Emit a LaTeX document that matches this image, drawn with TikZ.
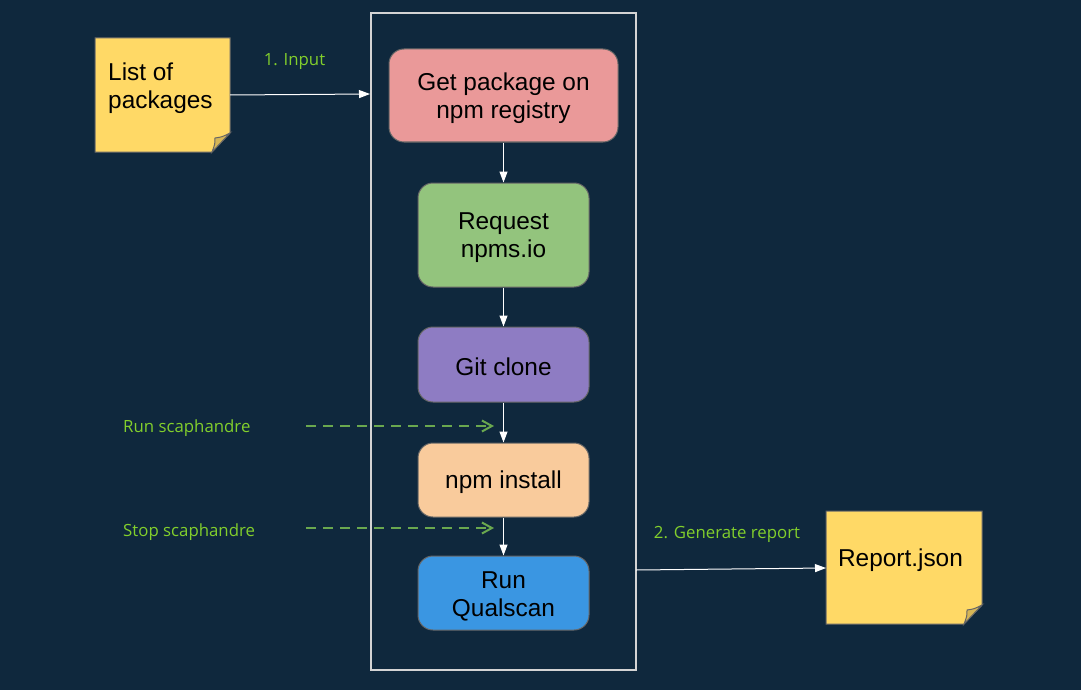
\documentclass[tikz,border=0pt]{standalone}
\usepackage{fontspec}
\setmainfont{Liberation Sans}
\newfontfamily\labelfont{Open Sans}
\usetikzlibrary{arrows.meta}
\definecolor{bg}{HTML}{0F283D}
\definecolor{frame}{HTML}{D4D4D4}
\definecolor{boxline}{HTML}{666666}
\definecolor{cget}{HTML}{EA9999}
\definecolor{creq}{HTML}{93C47D}
\definecolor{cgit}{HTML}{8E7CC3}
\definecolor{cnpm}{HTML}{F9CB9C}
\definecolor{crun}{HTML}{3A96E2}
\definecolor{notefill}{HTML}{FFD966}
\definecolor{notefold}{HTML}{D6B656}
\definecolor{lbl}{HTML}{82CF2C}
\definecolor{dashc}{HTML}{6AA84F}
\tikzset{
  stepbox/.style={draw=boxline, line width=1pt, rounded corners=15pt, inner sep=0pt},
  boxtext/.style={align=center, inner sep=0pt, font=\fontsize{24.4}{28}\selectfont, text=black},
  flow/.style={draw=white, line width=1pt, -{Triangle[width=8pt,length=11pt]}},
  trig/.style={draw=dashc, line width=2.5pt, dash pattern=on 10pt off 7pt, -{Straight Barb[length=10pt,width=11pt,line width=2pt]}},
  lbltext/.style={text=lbl, font=\labelfont\fontsize{16.8}{19}\selectfont, inner sep=0pt},
  notetext/.style={font=\fontsize{24.4}{28}\selectfont, text=black, inner sep=0pt},
}
\newcommand{\notebox}[4]{% x0 y0 x1 y1
  \fill[notefill, draw=boxline, line width=1pt] (#1,#2) -- (#3,#2) -- (#3,#4-19) -- (#3-18,#4) -- (#1,#4) -- cycle;
  \fill[notefold, draw=boxline, line width=1pt] (#3,#4-19) .. controls (#3-8,#4-15) .. (#3-15,#4-14) .. controls (#3-15,#4-8) .. (#3-18,#4) -- cycle;
}
\begin{document}
\begin{tikzpicture}[x=1pt,y=-1pt]
\fill[bg] (0,0) rectangle (1081,690);
\useasboundingbox (0,0) rectangle (1081,690);

% container
\node[draw=frame, line width=1.3pt, minimum width=265pt, minimum height=657pt, inner sep=0pt] (cont) at (503.5,341.5) {};

% steps
\node[stepbox, fill=cget, minimum width=229pt, minimum height=93pt] (get) at (503.5,95.5) {};
\node[stepbox, fill=creq, minimum width=171pt, minimum height=104pt] (req) at (503.5,235) {};
\node[stepbox, fill=cgit, minimum width=171pt, minimum height=75pt] (git) at (503.5,364.5) {};
\node[stepbox, fill=cnpm, minimum width=171pt, minimum height=74pt] (npm) at (503.5,480) {};
\node[stepbox, fill=crun, minimum width=171pt, minimum height=74pt] (run) at (503.5,593) {};
\node[boxtext] (getT) at ([yshift=-3pt]get.center) {Get package on\\npm registry};
\node[boxtext] (reqT) at ([yshift=-3pt]req.center) {Request\\npms.io};
\node[boxtext] (gitT) at ([yshift=-2pt]git.center) {Git clone};
\node[boxtext] (npmT) at ([yshift=-2pt]npm.center) {npm install};
\node[boxtext] (runT) at ([yshift=-3pt]run.center) {Run\\Qualscan};

\draw[flow] (get) -- (req);
\draw[flow] (req) -- (git);
\draw[flow] (git) -- (npm);
\draw[flow] (npm) -- (run);

% notes
\notebox{95}{38}{230}{152}
\node[notetext, align=left, anchor=west] (list) at (108,88) {List of\\packages};
\coordinate (listE) at (230,95);
\notebox{826}{511}{982}{624}
\node[notetext] (rep) at (900.5,560) {Report.json};
\coordinate (repW) at (826,568);

\coordinate (inIn) at (370,94);
\coordinate (outOut) at (636,570);
\draw[flow] (listE) -- (inIn);
\draw[flow] (outOut) -- (repW);
\node[lbltext] (l1) at (294.5,61.5) {1. Input};
\node[lbltext] (l2) at (727,534.5) {2. Generate report};

% scaphandre triggers
\node[lbltext, anchor=west] (runs) at (123,428) {Run scaphandre};
\node[lbltext, anchor=west] (stops) at (123,532) {Stop scaphandre};
\coordinate (rs0) at (306,426);
\coordinate (rs1) at (494,426);
\coordinate (ss0) at (306,528);
\coordinate (ss1) at (494,528);
\draw[trig] (rs0) -- (rs1);
\draw[trig] (ss0) -- (ss1);
\end{tikzpicture}
\end{document}
